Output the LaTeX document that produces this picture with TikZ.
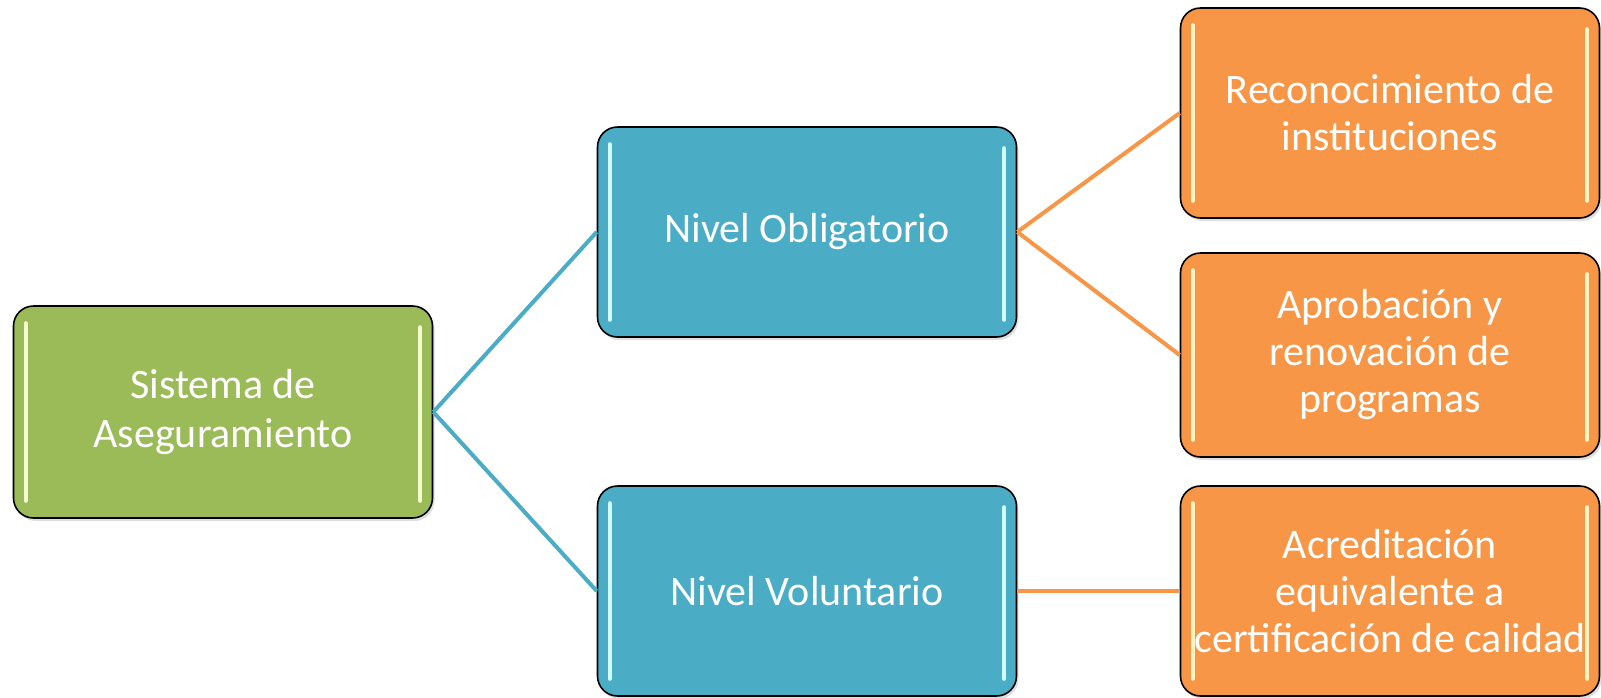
\documentclass[tikz,border=0pt]{standalone}
\usepackage{fontspec}
\setmainfont{Carlito}
\usetikzlibrary{calc,shadows}
\definecolor{cgreen}{HTML}{9BBB59}
\definecolor{cblue}{HTML}{4BACC6}
\definecolor{corange}{HTML}{F79646}
\definecolor{ggreen}{HTML}{F4FFD0}
\definecolor{gblue}{HTML}{D0FCFF}
\definecolor{gorange}{HTML}{FFF4C0}
\newcommand{\glowlines}[2]{%
  \draw[#2, line width=4pt, line cap=round] ($(#1.north west)+(13,18)$) -- ($(#1.south west)+(13,-18)$);
  \draw[#2, line width=4pt, line cap=round] ($(#1.north east)+(-13,22)$) -- ($(#1.south east)+(-13,-18)$);
}
\begin{document}
\begin{tikzpicture}[x=1pt,y=-1pt,
  box/.style={draw=black, line width=1.6pt, rounded corners=20pt, minimum width=419pt,
    minimum height=210pt, inner sep=0pt, align=center, text=white,
    font=\fontsize{42}{47}\selectfont,
    drop shadow={opacity=0.25, shadow xshift=2pt, shadow yshift=-3pt}},
  gbox/.style={box, fill=cgreen},
  bbox/.style={box, fill=cblue},
  obox/.style={box, fill=corange},
  bline/.style={draw=cblue, line width=4pt},
  oline/.style={draw=corange, line width=4pt}]
\useasboundingbox (0,0) rectangle (1601,697);
\node[gbox, minimum height=212pt, font=\fontsize{42}{49}\selectfont] (sis) at (223,412) {Sistema de\\Aseguramiento};
\node[bbox] (obl) at (807,232) {Nivel Obligatorio};
\node[bbox] (vol) at (807,591) {Nivel Voluntario};
\node[obox] (rec) at (1390,113) {Reconocimiento de\\instituciones};
\node[obox, minimum height=204pt] (apr) at (1390,355) {Aprobación y\\renovación de\\programas};
\node[obox] (acr) at (1390,591) {Acreditación\\equivalente a\\certificación de calidad};
\glowlines{sis}{ggreen}
\glowlines{obl}{gblue}
\glowlines{vol}{gblue}
\glowlines{rec}{gorange}
\glowlines{apr}{gorange}
\glowlines{acr}{gorange}
\draw[bline] (sis.east) -- (obl.west);
\draw[bline] (sis.east) -- (vol.west);
\draw[oline] (obl.east) -- (rec.west);
\draw[oline] (obl.east) -- (apr.west);
\draw[oline] (vol.east) -- (acr.west);
\end{tikzpicture}
\end{document}
